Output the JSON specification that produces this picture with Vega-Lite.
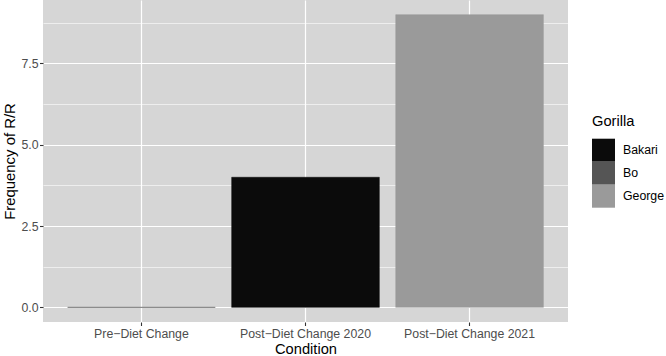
{
  "$schema": "https://vega.github.io/schema/vega-lite/v6.json",
  "width": 525,
  "height": 322,
  "autosize": "none",
  "padding": {"left": 43, "top": 0, "right": 98, "bottom": 34},
  "background": "white",
  "data": {
    "values": [
      {"Condition": "Pre−Diet Change", "Gorilla": "Bo", "freq": 0},
      {"Condition": "Post−Diet Change 2020", "Gorilla": "Bakari", "freq": 4},
      {"Condition": "Post−Diet Change 2021", "Gorilla": "George", "freq": 9}
    ]
  },
  "mark": {"type": "bar", "strokeWidth": 0.5},
  "encoding": {
    "x": {
      "field": "Condition",
      "type": "nominal",
      "sort": ["Pre−Diet Change", "Post−Diet Change 2020", "Post−Diet Change 2021"],
      "scale": {"paddingInner": 0.1, "paddingOuter": 0.15},
      "axis": {
        "labelAngle": 0,
        "labelFont": "Liberation Sans",
        "labelFontSize": 12.3,
        "labelColor": "#4d4d4d",
        "labelPadding": 2,
        "tickColor": "#333333",
        "tickSize": 3.5,
        "tickWidth": 1.1,
        "domain": false,
        "grid": true,
        "gridColor": "white",
        "gridWidth": 1.2,
        "title": "Condition",
        "titleFont": "Liberation Sans",
        "titleFontSize": 14.7,
        "titleFontWeight": "normal",
        "titleColor": "black",
        "titlePadding": 2
      }
    },
    "y": {
      "field": "freq",
      "type": "quantitative",
      "scale": {"domain": [-0.45, 9.45], "nice": false, "zero": false},
      "axis": {
        "values": [0, 1.25, 2.5, 3.75, 5, 6.25, 7.5, 8.75],
        "labelExpr": "datum.value % 2.5 === 0 ? format(datum.value, '.1f') : ''",
        "labelFont": "Liberation Sans",
        "labelFontSize": 12.3,
        "labelColor": "#4d4d4d",
        "labelPadding": 1.5,
        "tickColor": "#333333",
        "tickSize": 3.5,
        "tickWidth": 1.1,
        "tickOpacity": {"condition": {"test": "datum.value % 2.5 === 0", "value": 1}, "value": 0},
        "domain": false,
        "grid": true,
        "gridColor": "white",
        "gridWidth": {"condition": {"test": "datum.value % 2.5 === 0", "value": 1.2}, "value": 0.6},
        "title": "Frequency of R/R",
        "titleFont": "Liberation Sans",
        "titleFontSize": 14.9,
        "titleFontWeight": "normal",
        "titleColor": "black",
        "titlePadding": 3
      }
    },
    "fill": {
      "field": "Gorilla",
      "type": "nominal",
      "scale": {"domain": ["Bakari", "Bo", "George"], "range": ["#0b0b0b", "#555555", "#9a9a9a"]},
      "legend": {
        "orient": "none",
        "legendX": 549,
        "legendY": 114,
        "title": "Gorilla",
        "titleFont": "Liberation Sans",
        "titleFontSize": 14.7,
        "titleFontWeight": "normal",
        "titleColor": "black",
        "titlePadding": 10,
        "labelFont": "Liberation Sans",
        "labelFontSize": 12.3,
        "labelColor": "black",
        "labelOffset": 8,
        "symbolType": "square",
        "symbolSize": 529,
        "symbolStrokeWidth": 0,
        "symbolOpacity": 1,
        "rowPadding": 0,
        "padding": 0
      }
    },
    "stroke": {
      "field": "Gorilla",
      "type": "nominal",
      "scale": {"domain": ["Bakari", "Bo", "George"], "range": ["#0b0b0b", "#555555", "#9a9a9a"]},
      "legend": null
    }
  },
  "config": {"view": {"fill": "#d6d6d6", "stroke": null}}
}
